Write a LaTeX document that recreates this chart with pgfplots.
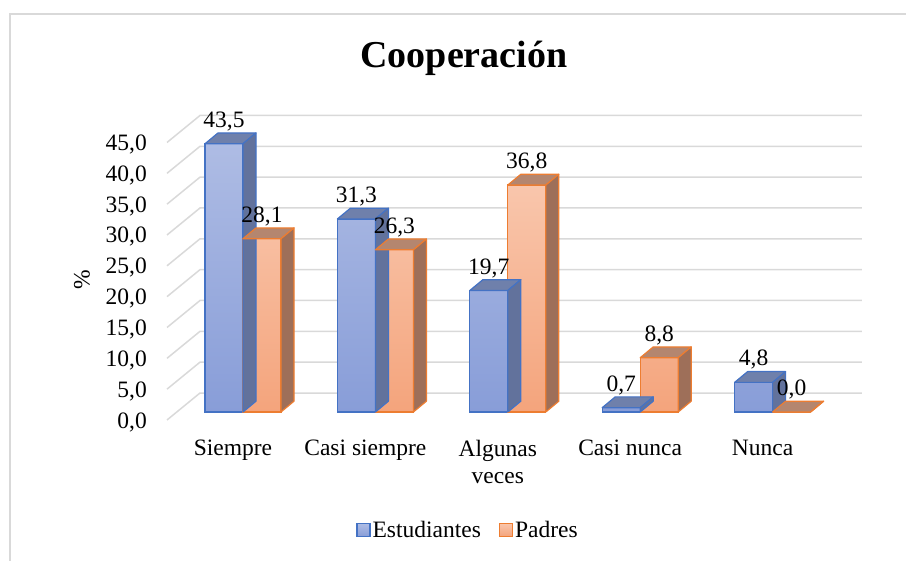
\documentclass[border=0pt]{standalone}
\usepackage{pgfplots}
\pgfplotsset{compat=1.18}
\usepackage{pgfplotstable}
\usepackage{fontspec}
\setmainfont{Liberation Serif}

\definecolor{gridc}{HTML}{D9D9D9}
\definecolor{bedge}{HTML}{4472C4}
\definecolor{btop}{HTML}{AEBCE4}
\definecolor{bbot}{HTML}{889DD8}
\definecolor{bface}{HTML}{6F80AB}
\definecolor{bside}{HTML}{62729C}
\definecolor{oedge}{HTML}{ED7D31}
\definecolor{otop}{HTML}{F9C6AC}
\definecolor{obot}{HTML}{F4A47C}
\definecolor{oface}{HTML}{B4866F}
\definecolor{oside}{HTML}{9E6F59}

\pgfdeclareplotmark{empty}{}

\pgfplotstableread{
x v
0 43.5
1 31.3
2 19.7
3 0.7
4 4.8
}\estud
\pgfplotstableread{
x v
0 28.1
1 26.3
2 36.8
3 8.8
4 0.0
}\padres

\newcommand{\fnt}{\fontsize{23.5}{27}\selectfont}

\begin{document}
\begin{tikzpicture}
\path[use as bounding box] (0pt,0pt) rectangle (906pt,-561pt);
\draw[gridc, line width=1.5pt] (10pt,-561pt) -- (10pt,-14pt) -- (906pt,-14pt);
\begin{axis}[
  at={(176.8pt,-412pt)}, anchor=south west,
  x=132.4pt, y=6.167pt,
  xmin=-0.5, xmax=4.5, ymin=0, ymax=45,
  enlargelimits=false, clip=false,
  axis line style={draw=none},
  tick style={draw=none}, major tick length=0pt,
  xtick={0,1,2,3,4},
  xticklabels={Siempre, Casi siempre, {Algunas\\veces}, Casi nunca, Nunca},
  xticklabel style={font=\fnt, align=center, anchor=north, inner sep=0pt, xshift=-10pt, yshift=-28pt},
  ytick={0,5,10,15,20,25,30,35,40,45},
  yticklabel style={font=\fnt, anchor=east, inner sep=0pt, xshift=-29.8pt, yshift=-10pt},
  /pgf/number format/fixed,
  /pgf/number format/fixed zerofill,
  /pgf/number format/precision=1,
  /pgf/number format/use comma,
  /pgf/number format/assume math mode=true,
  title={Cooperación},
  title style={font=\fontsize{38}{44}\selectfont\bfseries, anchor=base, at={(0.4338,1.218)}},
  ylabel={\%},
  ylabel style={font=\fnt, at={(-0.1432,0.4757)}, anchor=center},
  legend style={at={(0.44,-0.425)}, anchor=center, draw=none, fill=none, font=\fnt,
    legend columns=2, /tikz/every even column/.append style={column sep=16pt}},
  legend cell align=left,
  every node near coord/.append style={font=\fnt, anchor=base, inner sep=0pt, yshift=16.5pt, text=black},
]
\pgfplotsinvokeforeach{0,5,10,15,20,25,30,35,40,45}{
  \draw[gridc, line width=1.5pt] (axis cs:-0.574,{#1-1.297}) -- (axis cs:-0.3248,{#1+3.081}) -- (axis cs:4.675,{#1+3.081});
}

% Estudiantes: front faces
\addplot[ybar, bar width=38pt, bar shift=-19pt, draw=bedge, line width=1.2pt,
  top color=btop, bottom color=bbot, nodes near coords,
  every node near coord/.append style={xshift=-19pt},
  legend image code/.code={\draw[bedge, line width=1.2pt, top color=btop, bottom color=bbot] (0pt,-6.5pt) rectangle (13pt,6.5pt);}]
  table[x=x,y=v] {\estud};
\addlegendentry{Estudiantes}
% Estudiantes: top and side faces
\addplot[forget plot, scatter, only marks, mark=empty,
  visualization depends on={\thisrow{v} \as \val},
  scatter/@pre marker code/.code={%
    \pgfmathsetlengthmacro\hh{\val*6.167pt}%
    \filldraw[fill=bface, draw=bedge, line width=1.2pt, line join=round] (-38pt,0pt) -- (0pt,0pt) -- (13pt,10.8pt) -- (-25pt,10.8pt) -- cycle;
    \filldraw[fill=bside, draw=bedge, line width=1.2pt, line join=round] (0pt,0pt) -- (13pt,10.8pt) -- (13pt,10.8pt-\hh) -- (0pt,-\hh) -- cycle;
  },
  scatter/@post marker code/.code={}]
  table[x=x,y=v] {\estud};

% Padres: front faces
\addplot[ybar, bar width=38pt, bar shift=19pt, draw=oedge, line width=1.2pt,
  top color=otop, bottom color=obot, nodes near coords,
  every node near coord/.append style={xshift=19pt},
  legend image code/.code={\draw[oedge, line width=1.2pt, top color=otop, bottom color=obot] (0pt,-6.5pt) rectangle (13pt,6.5pt);}]
  table[x=x,y=v] {\padres};
\addlegendentry{Padres}
% Padres: top and side faces
\addplot[forget plot, scatter, only marks, mark=empty,
  visualization depends on={\thisrow{v} \as \val},
  scatter/@pre marker code/.code={%
    \pgfmathsetlengthmacro\hh{\val*6.167pt}%
    \filldraw[fill=oface, draw=oedge, line width=1.2pt, line join=round] (0pt,0pt) -- (38pt,0pt) -- (51pt,10.8pt) -- (13pt,10.8pt) -- cycle;
    \filldraw[fill=oside, draw=oedge, line width=1.2pt, line join=round] (38pt,0pt) -- (51pt,10.8pt) -- (51pt,10.8pt-\hh) -- (38pt,-\hh) -- cycle;
  },
  scatter/@post marker code/.code={}]
  table[x=x,y=v] {\padres};
\end{axis}
\end{tikzpicture}
\end{document}
